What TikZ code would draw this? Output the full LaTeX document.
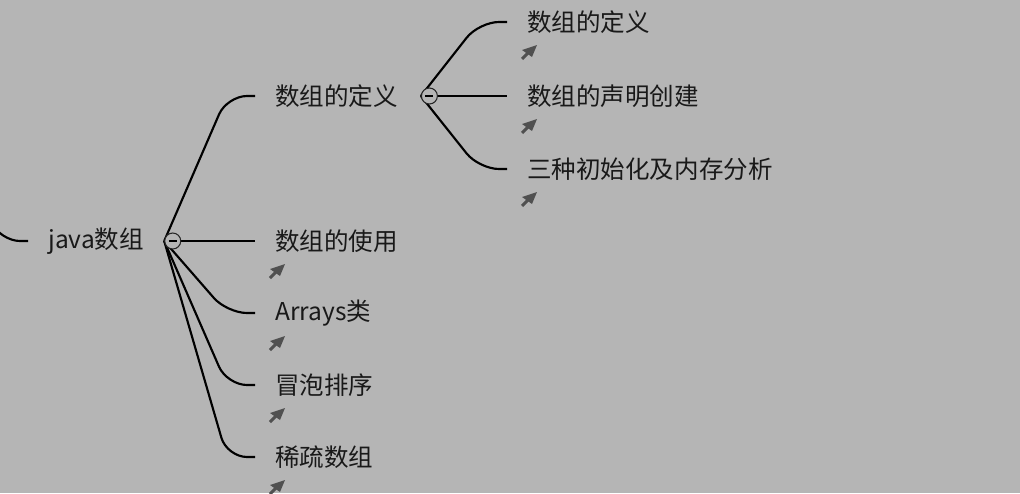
\documentclass[tikz,border=0pt]{standalone}
\usepackage{fontspec}
\setmainfont{Noto Sans CJK SC}
\usepackage{tikz}
\usetikzlibrary{positioning}
\usepackage{xcolor}

\definecolor{bggray}{RGB}{181,181,181}
\definecolor{icongray}{RGB}{80,80,80}

\pgfdeclarelayer{back}
\pgfdeclarelayer{links}
\pgfsetlayers{back,links,main}

\tikzset{
  topic/.style={anchor=west, inner xsep=15pt, inner ysep=2pt, text=black!90, font=\fontsize{18.4}{22}\selectfont},
  toggle/.style={circle, draw=black!85, line width=0.8pt, fill=bggray, minimum size=12pt, inner sep=0pt},
  link/.style={black, line width=1.6pt, rounded corners=15pt},
  branch/.style={to path={-- ([xshift=-21pt]\tikztotarget) -- (\tikztotarget)}},
  linkicon/.pic={
    \draw[icongray, line width=2.2pt] (-7,7) -- (-1,1);
    \fill[icongray] (8,-7) -- (3,5) -- (-7,-2) -- cycle;
  }
}

\begin{document}
\begin{tikzpicture}[x=0.75pt, y=-0.75pt]

\begin{pgfonlayer}{back}
\fill[bggray] (0,0) rectangle (1020,493);
\end{pgfonlayer}
\useasboundingbox (0,0) rectangle (1020,493);

% nodes
{
\coordinate (up) at (-30,175);
\node[topic] (root) at (28,241) {java数组};
\node[toggle, right=0pt of root] (t1) {};

\node[topic] (c1) at (255,96) {数组的定义};
\node[topic] (c2) at (255,241) {数组的使用};
\node[topic] (c3) at (255,313) {Arrays类};
\node[topic] (c4) at (255,385) {冒泡排序};
\node[topic] (c5) at (255,457) {稀疏数组};
\node[toggle, right=2pt of c1] (t2) {};

\node[topic] (d1) at (507,22) {数组的定义};
\node[topic] (d2) at (507,96) {数组的声明创建};
\node[topic] (d3) at (507,169) {三种初始化及内存分析};
}

% minus signs
\draw[black, line width=0.8pt] (t1.center) ++(-4,0) -- ++(8,0);
\draw[black, line width=0.8pt] (t2.center) ++(-4,0) -- ++(8,0);

% branches
\begin{pgfonlayer}{links}
\draw[link] (up) to[branch] (root.west);
\foreach \leaf in {c1,c2,c3,c4,c5}
  \draw[link] (t1.west) to[branch] (\leaf.west);
\foreach \leaf in {d1,d2,d3}
  \draw[link] (t2.west) to[branch] (\leaf.west);
\end{pgfonlayer}

% link icons
\foreach \leaf in {c2,c3,c4,c5,d1,d2,d3}
  \pic at ([shift={(22,30)}]\leaf.west) {linkicon};

\end{tikzpicture}
\end{document}
